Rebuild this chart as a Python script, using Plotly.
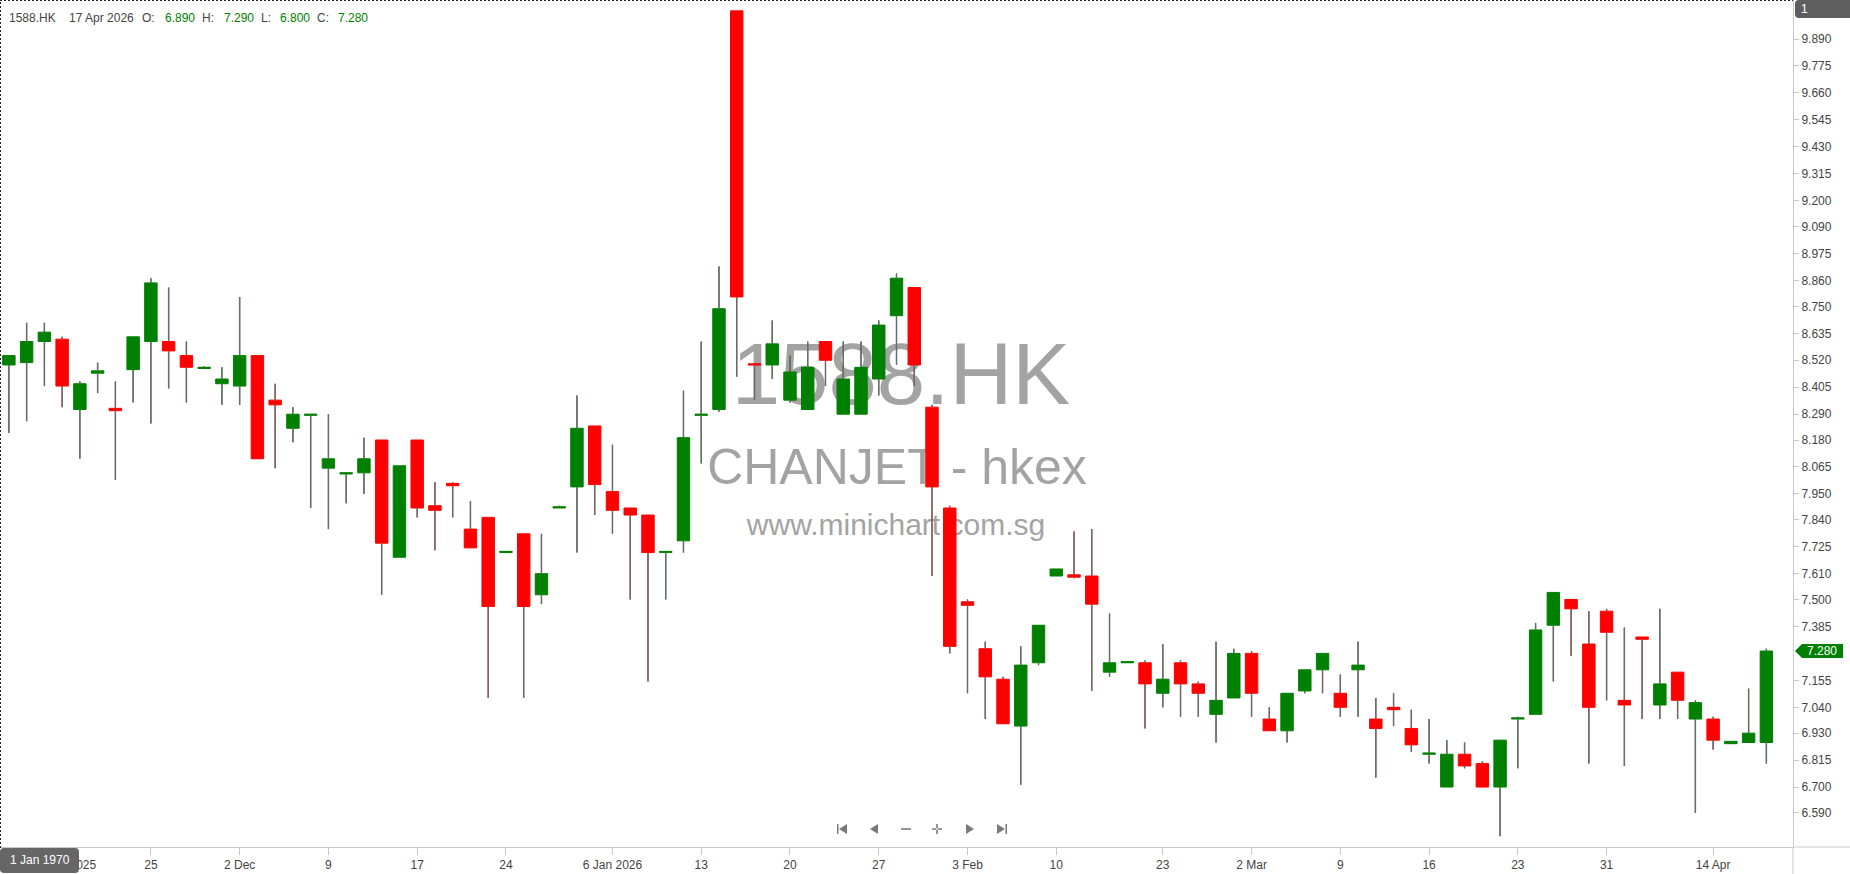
import plotly.graph_objects as go

# ---------------- data ----------------
ticker = "1588.HK"
company = "CHANJET - hkex"
site = "www.minichart.com.sg"
header_date = "17 Apr 2026"

dates = [
    "2025-11-13", "2025-11-14", "2025-11-17", "2025-11-18", "2025-11-19", "2025-11-20", "2025-11-21",
    "2025-11-24", "2025-11-25", "2025-11-26", "2025-11-27", "2025-11-28",
    "2025-12-01", "2025-12-02", "2025-12-03", "2025-12-04", "2025-12-05", "2025-12-08", "2025-12-09",
    "2025-12-10", "2025-12-11", "2025-12-12", "2025-12-15", "2025-12-17", "2025-12-18", "2025-12-19",
    "2025-12-22", "2025-12-23", "2025-12-24", "2025-12-29", "2025-12-30", "2025-12-31",
    "2026-01-02", "2026-01-05", "2026-01-06", "2026-01-07", "2026-01-08", "2026-01-09", "2026-01-12",
    "2026-01-13", "2026-01-14", "2026-01-15", "2026-01-16", "2026-01-19", "2026-01-20", "2026-01-21",
    "2026-01-22", "2026-01-23", "2026-01-26", "2026-01-27", "2026-01-28", "2026-01-29", "2026-01-30",
    "2026-02-02", "2026-02-03", "2026-02-04", "2026-02-05", "2026-02-06", "2026-02-09", "2026-02-10",
    "2026-02-11", "2026-02-12", "2026-02-13", "2026-02-16", "2026-02-20", "2026-02-23", "2026-02-24",
    "2026-02-25", "2026-02-26", "2026-02-27",
    "2026-03-02", "2026-03-03", "2026-03-04", "2026-03-05", "2026-03-06", "2026-03-09", "2026-03-10",
    "2026-03-11", "2026-03-12", "2026-03-13", "2026-03-16", "2026-03-17", "2026-03-18", "2026-03-19",
    "2026-03-20", "2026-03-23", "2026-03-24", "2026-03-25", "2026-03-26", "2026-03-30", "2026-03-31",
    "2026-04-01", "2026-04-02", "2026-04-08", "2026-04-09", "2026-04-10", "2026-04-14", "2026-04-15",
    "2026-04-16", "2026-04-17",
]

opens = [
    8.50, 8.51, 8.60, 8.61, 8.31, 8.465, 8.315, 8.48, 8.60, 8.60,
    8.54, 8.485, 8.42, 8.41, 8.54, 8.35, 8.23, 8.285, 8.06, 8.035,
    8.04, 8.18, 7.68, 8.18, 7.90, 7.995, 7.80, 7.85, 7.70, 7.78,
    7.52, 7.89, 7.98, 8.24, 7.96, 7.89, 7.86, 7.70, 7.75, 8.285,
    8.31, 10.01, 8.505, 8.50, 8.35, 8.31, 8.60, 8.29, 8.29, 8.44,
    8.71, 8.83, 8.32, 7.89, 7.49, 7.29, 7.16, 6.96, 7.23, 7.60,
    7.605, 7.60, 7.19, 7.23, 7.23, 7.10, 7.23, 7.14, 7.01, 7.08,
    7.27, 6.99, 6.94, 7.11, 7.20, 7.10, 7.20, 6.99, 7.04, 6.95,
    6.84, 6.70, 6.84, 6.80, 6.70, 6.99, 7.01, 7.39, 7.50, 7.31,
    7.45, 7.07, 7.34, 7.05, 7.19, 6.99, 6.99, 6.885, 6.89, 6.89,
]
highs = [
    8.54, 8.68, 8.68, 8.62, 8.43, 8.51, 8.43, 8.62, 8.87, 8.83,
    8.60, 8.495, 8.49, 8.79, 8.54, 8.42, 8.32, 8.29, 8.29, 8.04,
    8.19, 8.18, 8.07, 8.18, 8.00, 8.00, 7.92, 7.85, 7.705, 7.78,
    7.78, 7.90, 8.37, 8.24, 8.16, 7.89, 7.86, 7.705, 8.39, 8.60,
    8.92, 10.01, 8.505, 8.69, 8.54, 8.60, 8.60, 8.60, 8.60, 8.69,
    8.89, 8.83, 8.33, 7.90, 7.50, 7.32, 7.17, 7.30, 7.39, 7.63,
    7.79, 7.80, 7.44, 7.235, 7.24, 7.31, 7.24, 7.15, 7.32, 7.29,
    7.28, 7.04, 7.10, 7.20, 7.27, 7.18, 7.32, 7.08, 7.10, 7.03,
    6.99, 6.90, 6.89, 6.81, 6.90, 7.00, 7.40, 7.53, 7.50, 7.45,
    7.46, 7.38, 7.34, 7.46, 7.19, 7.07, 7.00, 6.895, 7.12, 7.29,
]
lows = [
    8.21, 8.26, 8.41, 8.32, 8.10, 8.38, 8.01, 8.34, 8.25, 8.40,
    8.34, 8.485, 8.33, 8.33, 8.10, 8.06, 8.17, 7.89, 7.80, 7.91,
    7.95, 7.52, 7.68, 7.85, 7.71, 7.85, 7.72, 7.08, 7.70, 7.08,
    7.48, 7.89, 7.70, 7.86, 7.78, 7.50, 7.15, 7.50, 7.70, 8.08,
    8.30, 8.45, 8.35, 8.44, 8.34, 8.31, 8.41, 8.29, 8.29, 8.37,
    8.50, 8.41, 7.60, 7.27, 7.10, 6.99, 6.97, 6.71, 7.22, 7.60,
    7.59, 7.11, 7.17, 7.23, 6.95, 7.04, 7.00, 7.00, 6.89, 7.08,
    7.00, 6.94, 6.89, 7.10, 7.10, 7.00, 7.00, 6.74, 6.96, 6.85,
    6.80, 6.70, 6.78, 6.70, 6.49, 6.78, 7.01, 7.15, 7.26, 6.80,
    7.07, 6.79, 6.99, 6.99, 6.99, 6.59, 6.86, 6.885, 6.89, 6.80,
]
closes = [
    8.54, 8.60, 8.64, 8.41, 8.42, 8.475, 8.305, 8.62, 8.85, 8.56,
    8.49, 8.49, 8.44, 8.54, 8.10, 8.33, 8.29, 8.29, 8.10, 8.04,
    8.10, 7.74, 8.07, 7.89, 7.88, 7.985, 7.72, 7.47, 7.705, 7.47,
    7.61, 7.895, 8.23, 7.99, 7.88, 7.86, 7.70, 7.705, 8.19, 8.29,
    8.74, 8.79, 8.50, 8.59, 8.47, 8.49, 8.52, 8.44, 8.49, 8.67,
    8.87, 8.50, 7.98, 7.30, 7.475, 7.17, 6.97, 7.22, 7.39, 7.63,
    7.595, 7.48, 7.23, 7.235, 7.14, 7.16, 7.14, 7.10, 7.07, 7.27,
    7.10, 6.94, 7.10, 7.20, 7.27, 7.04, 7.22, 6.95, 7.03, 6.88,
    6.845, 6.84, 6.79, 6.70, 6.90, 6.995, 7.37, 7.53, 7.46, 7.04,
    7.36, 7.05, 7.33, 7.14, 7.07, 7.06, 6.90, 6.895, 6.93, 7.28,
]

x_tick_dates = [
    "2025-11-18", "2025-11-25", "2025-12-02", "2025-12-09", "2025-12-17", "2025-12-24",
    "2026-01-06", "2026-01-13", "2026-01-20", "2026-01-27", "2026-02-03", "2026-02-10",
    "2026-02-23", "2026-03-02", "2026-03-09", "2026-03-16", "2026-03-23", "2026-03-31",
    "2026-04-14",
]
x_tick_labels = [
    "18 Nov 2025", "25", "2 Dec", "9", "17", "24",
    "6 Jan 2026", "13", "20", "27", "3 Feb", "10",
    "23", "2 Mar", "9", "16", "23", "31",
    "14 Apr",
]
# the 7.270 level sits under the last-price marker in the reference, so it is not listed
y_tick_labels = [
    "9.890", "9.775", "9.660", "9.545", "9.430", "9.315", "9.200", "9.090", "8.975", "8.860",
    "8.750", "8.635", "8.520", "8.405", "8.290", "8.180", "8.065", "7.950", "7.840", "7.725",
    "7.610", "7.500", "7.385", "7.155", "7.040", "6.930", "6.815", "6.700", "6.590",
]

# ---------------- style ----------------
UP = "#008000"
DOWN = "#ff0000"
WICK = "#6b6b6b"
AXIS = "#c8c8c8"
TXT = "#444444"
FONT = "Liberation Sans, Arial, sans-serif"

W, H = 1850, 874
ML, MR, MT, MB = 0, 57, 0, 27
PW = W - ML - MR
PH = H - MT - MB
Y_RANGE = [6.4444, 10.0563]


def px(xp):
    return (xp - ML) / PW


def py(yp):
    return 1 - (yp - MT) / PH


# wicks (drawn above the bodies, split so they never cross a body)
wx, wy = [], []
for d, o, h, l, c in zip(dates, opens, highs, lows, closes):
    top, bot = max(o, c), min(o, c)
    if h > top:
        wx += [d, d, None]
        wy += [top, h, None]
    if l < bot:
        wx += [d, d, None]
        wy += [l, bot, None]

fig = go.Figure()
fig.add_trace(go.Candlestick(
    x=dates, open=opens, high=highs, low=lows, close=closes,
    increasing=dict(line=dict(color=UP, width=1), fillcolor=UP),
    decreasing=dict(line=dict(color=DOWN, width=1), fillcolor=DOWN),
    whiskerwidth=0, hoverinfo="skip", showlegend=False,
))
fig.add_trace(go.Scatter(
    x=wx, y=wy, mode="lines", line=dict(color=WICK, width=1.5),
    hoverinfo="skip", showlegend=False, connectgaps=False,
))

shapes = []
annotations = []

# watermark (below the candles)
for text, size, cx, cy in [(ticker, 87, 901, 365), (company, 50, 897, 462), (site, 30, 896, 521)]:
    shapes.append(dict(
        type="rect", xref="paper", yref="paper",
        x0=px(cx - 1), x1=px(cx + 1), y0=py(cy + 1), y1=py(cy - 1),
        line=dict(width=0), fillcolor="rgba(0,0,0,0)", layer="below",
        label=dict(text=text, textposition="middle center", padding=0,
                   font=dict(size=size, color="#a3a3a3", family=FONT)),
    ))

# axis line extensions
shapes.append(dict(type="line", xref="paper", yref="paper", x0=1, x1=px(W), y0=0, y1=0,
                   line=dict(color=AXIS, width=1)))
shapes.append(dict(type="line", xref="paper", yref="paper", x0=1, x1=1, y0=0, y1=py(H),
                   line=dict(color=AXIS, width=1)))

# dashed selection frame
shapes.append(dict(type="line", xref="paper", yref="paper", x0=px(0.5), x1=px(0.5), y0=py(848), y1=1,
                   line=dict(color="#222222", width=1, dash="2px,2px")))
shapes.append(dict(type="line", xref="paper", yref="paper", x0=0, x1=1, y0=py(0.5), y1=py(0.5),
                   line=dict(color="#222222", width=1, dash="2px,2px")))

# "1" tab at the top right
shapes.append(dict(type="path", xref="paper", yref="paper", xsizemode="pixel", ysizemode="pixel",
                   xanchor=1, yanchor=1,
                   path="M 6,0 L 57,0 L 57,-18 L 6,-18 Q 2,-18 2,-14 L 2,-4 Q 2,0 6,0 Z",
                   fillcolor="#5e5e5e", line=dict(width=0), layer="above"))
annotations.append(dict(text="1", xref="paper", yref="paper", x=px(1799), y=py(9),
                        xanchor="left", yanchor="middle", showarrow=False,
                        font=dict(size=12, color="white", family=FONT)))

# "1 Jan 1970" box bottom left
shapes.append(dict(type="path", xref="paper", yref="paper", xsizemode="pixel", ysizemode="pixel",
                   xanchor=0, yanchor=0,
                   path="M 4,-1 L 75,-1 Q 79,-1 79,-5 L 79,-22 Q 79,-26 75,-26 L 4,-26 Q 0,-26 0,-22 L 0,-5 Q 0,-1 4,-1 Z",
                   fillcolor="#666666", line=dict(width=0), layer="above"))
annotations.append(dict(text="1 Jan 1970", xref="paper", yref="paper", x=px(39.5), y=py(860.5),
                        xanchor="center", yanchor="middle", showarrow=False,
                        font=dict(size=12, color="white", family=FONT)))

# last price marker
shapes.append(dict(type="path", xref="paper", yref="y", xsizemode="pixel", ysizemode="pixel",
                   xanchor=1, yanchor=closes[-1],
                   path="M 2,0 L 9,7 L 50,7 L 50,-7 L 9,-7 Z",
                   fillcolor=UP, line=dict(width=0), layer="above"))
annotations.append(dict(text=f"{closes[-1]:.3f}", xref="paper", yref="y", x=px(PW + 29.5), y=closes[-1],
                        xanchor="center", yanchor="middle", showarrow=False,
                        font=dict(size=12, color="white", family=FONT)))

# navigation icons
ICON = "#7a7a7a"
icons = [
    (842, "M -5,-5 L -3.5,-5 L -3.5,5 L -5,5 Z M 5,5 L 5,-5 L -3,0 Z"),
    (874, "M 4,5 L 4,-5 L -4,0 Z"),
    (906, "M -5,-0.8 L 5,-0.8 L 5,0.8 L -5,0.8 Z"),
    (937, "M -5,-0.8 L 5,-0.8 L 5,0.8 L -5,0.8 Z M -0.8,-5 L 0.8,-5 L 0.8,5 L -0.8,5 Z"),
    (970, "M -4,5 L -4,-5 L 4,0 Z"),
    (1002, "M -5,5 L -5,-5 L 3,0 Z M 3.5,-5 L 5,-5 L 5,5 L 3.5,5 Z"),
]
for cx, path in icons:
    shapes.append(dict(type="path", xref="paper", yref="paper", xsizemode="pixel", ysizemode="pixel",
                       xanchor=px(cx), yanchor=py(829), path=path,
                       fillcolor=ICON, line=dict(width=0), layer="above"))

# header
o, h, l, c = opens[-1], highs[-1], lows[-1], closes[-1]
header = [
    (ticker, 7, TXT), (header_date, 67, TXT),
    ("O:", 140, TXT), (f"{o:.3f}", 163, UP),
    ("H:", 200, TXT), (f"{h:.3f}", 222, UP),
    ("L:", 259, TXT), (f"{l:.3f}", 278, UP),
    ("C:", 315, TXT), (f"{c:.3f}", 336, UP),
]
for text, xp, col in header:
    annotations.append(dict(text=text, xref="paper", yref="paper", x=px(xp), y=py(18),
                            xanchor="left", yanchor="middle", showarrow=False,
                            font=dict(size=12, color=col, family=FONT)))

fig.update_layout(
    width=W, height=H,
    margin=dict(l=ML, r=MR, t=MT, b=MB, pad=0),
    paper_bgcolor="white", plot_bgcolor="white",
    showlegend=False, hovermode=False,
    boxgap=0.3, boxgroupgap=0,
    font=dict(family=FONT, size=12, color=TXT),
    shapes=shapes, annotations=annotations,
    xaxis=dict(
        type="category", range=[-0.5, len(dates) + 0.5],
        tickmode="array", tickvals=x_tick_dates, ticktext=x_tick_labels,
        ticks="outside", ticklen=7, tickcolor=AXIS, tickwidth=1,
        showline=True, linecolor=AXIS, linewidth=1,
        showgrid=False, zeroline=False, fixedrange=True,
        rangeslider=dict(visible=False),
        tickfont=dict(size=12, color=TXT, family=FONT),
    ),
    yaxis=dict(
        side="right", range=Y_RANGE,
        tickmode="array", tickvals=[float(t) for t in y_tick_labels], ticktext=y_tick_labels,
        ticks="outside", ticklen=5, tickcolor=AXIS, tickwidth=1,
        showline=True, linecolor=AXIS, linewidth=1,
        showgrid=False, zeroline=False, fixedrange=True,
        tickfont=dict(size=12, color=TXT, family=FONT),
    ),
)

fig.write_html("out.html", config={"displayModeBar": False},
               post_script="document.body.style.margin='0px';")
